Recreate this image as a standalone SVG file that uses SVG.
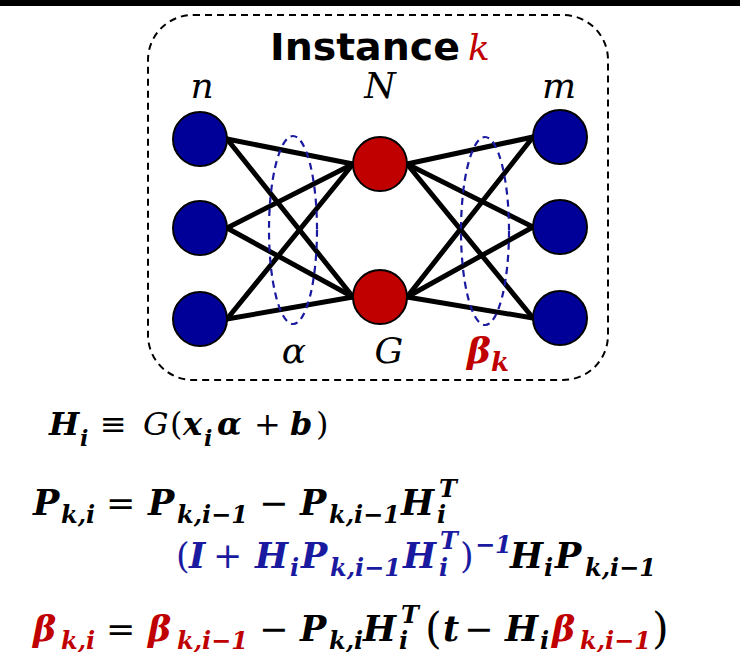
<svg xmlns="http://www.w3.org/2000/svg" width="740" height="652" viewBox="0 0 740 652">
<style>
.bar{fill:#000}
.frame{fill:none;stroke:#000;stroke-width:2;stroke-dasharray:7 5}
.edge{stroke:#000;stroke-width:5;stroke-linecap:round}
.grp{fill:none;stroke:#1a1aa0;stroke-width:2.2;stroke-dasharray:7 5}
.inp{fill:#000099;stroke:#000;stroke-width:2}
.hid{fill:#c00000;stroke:#000;stroke-width:2}
.title{font-family:"DejaVu Sans","Liberation Sans",sans-serif;font-weight:bold;font-size:38px;fill:#000}
.m{font-family:"DejaVu Serif","Liberation Serif",serif}
.lbl{font-style:italic;font-size:36px;fill:#000}
.bi{font-weight:bold;font-style:italic}
.it{font-style:italic}
.up{font-style:normal;font-weight:normal}
.f1{font-size:32px}
.s1{font-size:22px}
.f2{font-size:35px}
.s2{font-size:24px}
.pb{font-size:43px}
.red{fill:#c00000}
.blue{fill:#1a1aa0}
.blk{fill:#000}
</style>
<rect class="bar" x="0" y="0" width="740" height="6"/>
<g id="instance-frame">
<rect class="frame" x="148" y="15" width="460" height="365" rx="45" ry="45"/>
<text class="title" x="270" y="60" textLength="190" lengthAdjust="spacingAndGlyphs">Instance</text>
<text class="m lbl red" x="468" y="60">k</text>
</g>
<g id="connectors">
<line class="edge" x1="227" y1="139" x2="353" y2="164"/>
<line class="edge" x1="227" y1="139" x2="353" y2="297"/>
<line class="edge" x1="227" y1="228" x2="353" y2="164"/>
<line class="edge" x1="227" y1="228" x2="353" y2="297"/>
<line class="edge" x1="227" y1="319" x2="353" y2="164"/>
<line class="edge" x1="227" y1="319" x2="353" y2="297"/>
<line class="edge" x1="407" y1="164" x2="533" y2="137"/>
<line class="edge" x1="407" y1="164" x2="533" y2="227"/>
<line class="edge" x1="407" y1="164" x2="533" y2="318"/>
<line class="edge" x1="407" y1="297" x2="533" y2="137"/>
<line class="edge" x1="407" y1="297" x2="533" y2="227"/>
<line class="edge" x1="407" y1="297" x2="533" y2="318"/>
</g>
<g id="alpha-group"><ellipse class="grp" cx="293" cy="230" rx="24" ry="94"/></g>
<g id="beta-group"><ellipse class="grp" cx="485" cy="231" rx="24" ry="94"/></g>
<g id="in1"><circle class="inp" cx="200" cy="139" r="27"/></g>
<g id="in2"><circle class="inp" cx="200" cy="228" r="27"/></g>
<g id="in3"><circle class="inp" cx="200" cy="319" r="27"/></g>
<g id="hid1"><circle class="hid" cx="380" cy="164" r="27"/></g>
<g id="hid2"><circle class="hid" cx="380" cy="297" r="27"/></g>
<g id="out1"><circle class="inp" cx="560" cy="137" r="27"/></g>
<g id="out2"><circle class="inp" cx="560" cy="227" r="27"/></g>
<g id="out3"><circle class="inp" cx="560" cy="318" r="27"/></g>
<g id="labels">
<text class="m lbl" x="202" y="98" text-anchor="middle">n</text>
<text class="m lbl" x="380" y="98" text-anchor="middle">N</text>
<text class="m lbl" x="559" y="98" text-anchor="middle">m</text>
<text class="m lbl" x="294" y="363" text-anchor="middle" font-size="38">α</text>
<text class="m lbl" x="389" y="363" text-anchor="middle">G</text>
<text class="m red bi" x="467" y="363" font-size="36">β<tspan font-size="26" y="371">k</tspan></text>
</g>
<g id="eq1">
<text class="m blk">
<tspan class="bi f1" x="49" y="435">H</tspan><tspan class="bi s1" x="80" y="446">i</tspan><tspan class="up f1" x="100" y="435">≡</tspan><tspan class="it f1" x="143" y="435">G</tspan><tspan class="up f1" x="170" y="435">(</tspan><tspan class="bi f1" x="183" y="435">x</tspan><tspan class="bi s1" x="204" y="446">i</tspan><tspan class="bi f1" x="217" y="435">α</tspan><tspan class="up f1" x="254" y="435">+</tspan><tspan class="bi f1" x="290" y="435">b</tspan><tspan class="up f1" x="316" y="435">)</tspan>
</text>
</g>
<g id="eq2">
<text class="m blk">
<tspan class="bi f2" x="33" y="515">P</tspan><tspan class="bi s2" x="61" y="523">k,i</tspan><tspan class="up f2" x="106" y="515">=</tspan><tspan class="bi f2" x="148" y="515">P</tspan><tspan class="bi s2" x="177" y="523">k,i−1</tspan><tspan class="up f2" x="259" y="515">−</tspan><tspan class="bi f2" x="300" y="515">P</tspan><tspan class="bi s2" x="329" y="523">k,i−1</tspan><tspan class="bi f2" x="401" y="515">H</tspan><tspan class="bi s2" x="439" y="497">T</tspan><tspan class="bi s2" x="437" y="523">i</tspan>
</text>
<text class="m blue">
<tspan class="up f2" x="176" y="568">(</tspan><tspan class="bi f2" x="189" y="568">I</tspan><tspan class="up f2" x="213" y="568">+</tspan><tspan class="bi f2" x="255" y="568">H</tspan><tspan class="bi s2" x="290" y="576">i</tspan><tspan class="bi f2" x="301" y="568">P</tspan><tspan class="bi s2" x="330" y="576">k,i−1</tspan><tspan class="bi f2" x="403" y="568">H</tspan><tspan class="bi s2" x="440" y="549">T</tspan><tspan class="bi s2" x="439" y="576">i</tspan><tspan class="up f2" x="460" y="568">)</tspan><tspan class="bi s2" x="475" y="553">−1</tspan>
</text>
<text class="m blk">
<tspan class="bi f2" x="510" y="568">H</tspan><tspan class="bi s2" x="544" y="576">i</tspan><tspan class="bi f2" x="555" y="568">P</tspan><tspan class="bi s2" x="585" y="576">k,i−1</tspan>
</text>
</g>
<g id="eq3">
<text class="m blk">
<tspan class="bi f2 red" x="33" y="641">β</tspan><tspan class="bi s2 red" x="61" y="649">k,i</tspan><tspan class="up f2" x="106" y="641">=</tspan><tspan class="bi f2 red" x="148" y="641">β</tspan><tspan class="bi s2 red" x="177" y="649">k,i−1</tspan><tspan class="up f2" x="259" y="641">−</tspan><tspan class="bi f2" x="300" y="641">P</tspan><tspan class="bi s2" x="329" y="649">k,i</tspan><tspan class="bi f2" x="363" y="641">H</tspan><tspan class="bi s2" x="401" y="623">T</tspan><tspan class="bi s2" x="399" y="649">i</tspan><tspan class="up pb" x="425" y="643">(</tspan><tspan class="bi f2" x="443" y="641">t</tspan><tspan class="up f2" x="464" y="641">−</tspan><tspan class="bi f2" x="505" y="641">H</tspan><tspan class="bi s2" x="540" y="649">i</tspan><tspan class="bi f2 red" x="552" y="641">β</tspan><tspan class="bi s2 red" x="580" y="649">k,i−1</tspan><tspan class="up pb" x="652" y="643">)</tspan>
</text>
</g>
</svg>
